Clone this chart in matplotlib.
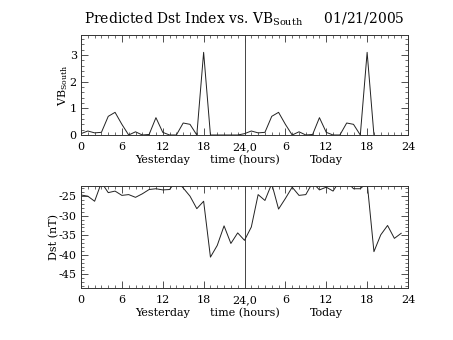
import matplotlib
matplotlib.use("Agg")
import matplotlib.pyplot as plt
from matplotlib.ticker import FixedLocator, MultipleLocator
import numpy as np

hours_vb = list(range(0, 44))
vb_day = [0.05, 0.15, 0.08, 0.1, 0.7, 0.85, 0.4, 0.0, 0.12, 0.0, 0.02, 0.65,
          0.1, 0.0, 0.0, 0.45, 0.4, 0.0, 3.1, 0.0, 0.0, 0.0, 0.0, 0.0]
vb_today = [0.05, 0.15, 0.08, 0.1, 0.7, 0.85, 0.4, 0.0, 0.12, 0.0, 0.02, 0.65,
            0.1, 0.0, 0.0, 0.45, 0.4, 0.0, 3.1, 0.0]
vb = vb_day + vb_today

hours_dst = list(range(0, 48))
dst = [-24.7, -25.0, -26.3, -21.5, -24.1, -23.7, -24.8, -24.6, -25.3, -24.4,
       -23.3, -23.1, -23.4, -23.3, -21.0, -22.9, -25.0, -28.2, -26.3, -40.6,
       -37.6, -32.6, -37.1, -34.4, -36.3, -32.9, -24.6, -26.1, -21.8, -28.3,
       -25.6, -22.7, -24.8, -24.6, -21.5, -23.4, -22.7, -23.7, -21.0, -21.2,
       -23.1, -23.1, -21.5, -39.2, -34.9, -32.5, -35.8, -34.5]

xtick_pos = [0, 6, 12, 18, 24, 30, 36, 42, 48]
xtick_labels = ["0", "6", "12", "18", "24,0", "6", "12", "18", "24"]
title = "Predicted Dst Index vs. VB$_{\\rm South}$     01/21/2005"

plt.rcParams['font.family'] = ['DejaVu Serif']
plt.rcParams['mathtext.fontset'] = 'dejavuserif'
plt.rcParams['axes.unicode_minus'] = False

fig = plt.figure(figsize=(4.53, 3.40), dpi=100)
W, H = 453.0, 340.0

def mkax(top, bottom):
    return fig.add_axes([81 / W, 1 - bottom / H, (408 - 81) / W, (bottom - top) / H])

ax1 = mkax(35, 135)
ax2 = mkax(186, 288)

lc = '#333333'
fs = 8
for ax in (ax1, ax2):
    ax.set_xlim(0, 48)
    ax.xaxis.set_major_locator(FixedLocator(xtick_pos))
    ax.xaxis.set_minor_locator(MultipleLocator(1))
    ax.set_xticklabels(xtick_labels)
    ax.axvline(24, color='#444444', lw=0.7)
    ax.tick_params(which='both', direction='in', top=True, right=True,
                   labelsize=fs, color=lc)
    ax.tick_params(axis='x', pad=5)
    ax.tick_params(axis='y', pad=3)
    ax.tick_params(which='major', length=5, width=0.6)
    ax.tick_params(which='minor', length=2.5, width=0.5)
    for s in ax.spines.values():
        s.set_linewidth(0.7)
        s.set_color(lc)
    ax.text(12, -0.2, "Yesterday", transform=ax.get_xaxis_transform(),
            ha='center', va='top', fontsize=fs)
    ax.text(24, -0.2, "time (hours)", transform=ax.get_xaxis_transform(),
            ha='center', va='top', fontsize=fs)
    ax.text(36, -0.2, "Today", transform=ax.get_xaxis_transform(),
            ha='center', va='top', fontsize=fs)

ax1.plot(hours_vb, vb, color='#222222', lw=0.7)
ax1.set_ylim(0, 3.75)
ax1.yaxis.set_major_locator(FixedLocator([0, 1, 2, 3]))
ax1.yaxis.set_minor_locator(MultipleLocator(0.2))
ax1.set_ylabel("VB$_{\\rm South}$", fontsize=fs, labelpad=0)
ax1.set_title(title, fontsize=10, pad=8)

ax2.plot(hours_dst, dst, color='#222222', lw=0.7)
ax2.set_ylim(-48.5, -22.4)
ax2.yaxis.set_major_locator(FixedLocator([-45, -40, -35, -30, -25]))
ax2.yaxis.set_minor_locator(MultipleLocator(1))
ax2.set_ylabel("Dst (nT)", fontsize=fs, labelpad=0)

fig.savefig("out.png", dpi=100)
